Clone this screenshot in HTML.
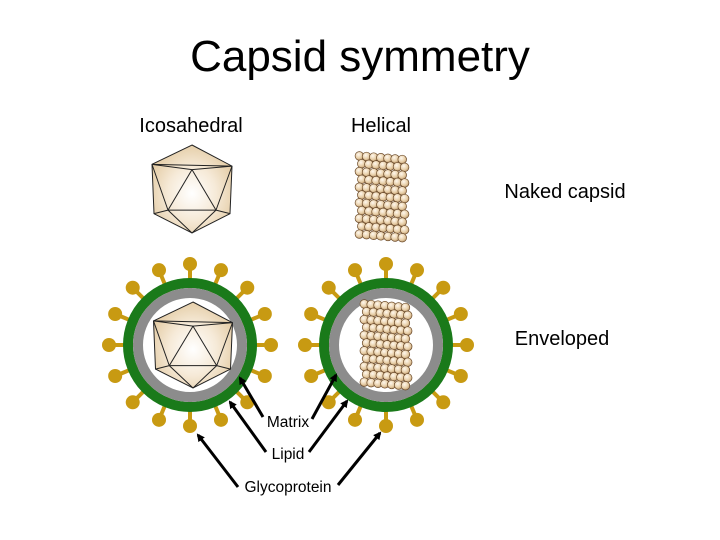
<!DOCTYPE html>
<html><head><meta charset="utf-8"><style>
html,body{margin:0;padding:0;background:#fff;width:720px;height:540px;overflow:hidden}
svg{display:block}
text{font-family:"Liberation Sans",sans-serif;fill:#000}
</style></head><body>
<svg id="s" width="720" height="540" viewBox="0 0 720 540" xmlns="http://www.w3.org/2000/svg">
<defs>
<radialGradient id="ico" cx="0.5" cy="0.55" r="0.6"><stop offset="0" stop-color="#fff"/><stop offset="0.5" stop-color="#f6ead8"/><stop offset="1" stop-color="#e2c9a0"/></radialGradient>
<radialGradient id="ball" cx="0.4" cy="0.35" r="0.7"><stop offset="0" stop-color="#fff8ee"/><stop offset="0.6" stop-color="#e8cfa8"/><stop offset="1" stop-color="#b89468"/></radialGradient>
<marker id="ah" markerWidth="8" markerHeight="8" refX="6" refY="4" orient="auto" markerUnits="userSpaceOnUse"><path d="M0,0 L8,4 L0,8 Z" fill="#000"/></marker>
</defs>
<text x="360" y="71" font-size="44" text-anchor="middle">Capsid symmetry</text>
<text x="191" y="132" font-size="20" text-anchor="middle">Icosahedral</text>
<text x="381" y="132" font-size="20" text-anchor="middle">Helical</text>
<text x="565" y="198" font-size="20" text-anchor="middle">Naked capsid</text>
<text x="562" y="345" font-size="20" text-anchor="middle">Enveloped</text>
<g id="g"></g>
<text x="288" y="427" font-size="15.5" text-anchor="middle">Matrix</text>
<text x="288" y="459" font-size="15.5" text-anchor="middle">Lipid</text>
<text x="288" y="492" font-size="15.5" text-anchor="middle">Glycoprotein</text>
<g stroke="#000" stroke-width="3" marker-end="url(#ah)">
<line x1="263" y1="417" x2="240" y2="378"/>
<line x1="266" y1="452" x2="230" y2="402"/>
<line x1="238" y1="487" x2="198" y2="435"/>
<line x1="312" y1="419" x2="336" y2="375"/>
<line x1="309" y1="452" x2="347" y2="401"/>
<line x1="338" y1="485" x2="380" y2="433"/>
</g>
</svg>
<script>
var g=document.getElementById('g'),h='';
function virus(cx,cy){
 for(var i=0;i<16;i++){var a=i*Math.PI/8,s=Math.sin(a),c=-Math.cos(a);
  h+='<line x1="'+(cx+s*55)+'" y1="'+(cy+c*55)+'" x2="'+(cx+s*80)+'" y2="'+(cy+c*80)+'" stroke="#c89a12" stroke-width="4"/>';
  h+='<circle cx="'+(cx+s*81)+'" cy="'+(cy+c*81)+'" r="7" fill="#c89a12"/>';}
 h+='<circle cx="'+cx+'" cy="'+cy+'" r="62" fill="none" stroke="#1a7a1a" stroke-width="10"/>';
 h+='<circle cx="'+cx+'" cy="'+cy+'" r="52" fill="#fff" stroke="#8c8c8c" stroke-width="10"/>';
}
function ico(cx,cy,w,ht){
 var x0=cx-w/2,x1=cx+w/2,t=cy-ht/2,b=cy+ht/2;
 var P=[[cx,t],[x1,t+ht*0.24],[x1-2,t+ht*0.78],[cx,b],[x0+2,t+ht*0.78],[x0,t+ht*0.22]];
 var T=[[cx,t+ht*0.28],[x1-w*0.2,t+ht*0.74],[x0+w*0.2,t+ht*0.74]];
 var pts=P.map(function(p){return p.join(',')}).join(' ');
 h+='<polygon points="'+pts+'" fill="url(#ico)" stroke="#222" stroke-width="1"/>';
 var L=function(a,b){h+='<line x1="'+a[0]+'" y1="'+a[1]+'" x2="'+b[0]+'" y2="'+b[1]+'" stroke="#222" stroke-width="1"/>';};
 L(T[0],T[1]);L(T[1],T[2]);L(T[2],T[0]);
 L(P[5],T[0]);L(P[1],T[0]);L(P[5],P[1]);L(P[1],T[1]);L(P[2],T[1]);L(P[3],T[1]);L(P[3],T[2]);L(P[4],T[2]);L(P[5],T[2]);
}
function helix(x,y,w,ht){
 var cols=7,rows=11,dx=w/cols,dy=ht/rows,r=4.3;
 for(var j=0;j<rows;j++)for(var i=0;i<cols;i++){
  var xx=x+dx/2+i*dx+((j%2)?dx/3:0)-dx/6,yy=y+dy/2+j*dy+i*0.6;
  h+='<circle cx="'+xx+'" cy="'+yy+'" r="'+r+'" fill="url(#ball)" stroke="#6b4a2a" stroke-width="0.7"/>';}
}
ico(192,189,80,88);
helix(357,152,50,86);
virus(190,345);
virus(386,345);
ico(193,345,79,86);
helix(362,300,48,86);
g.innerHTML=h;
</script>
</body></html>
